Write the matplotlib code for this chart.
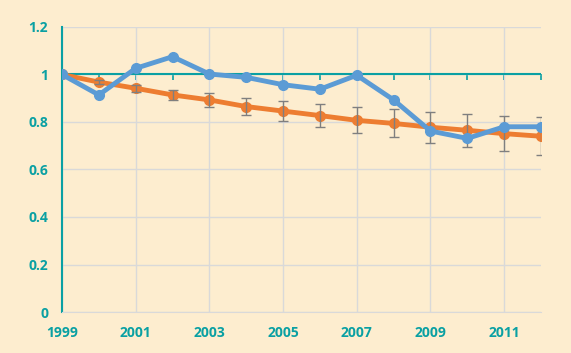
import matplotlib.pyplot as plt
import numpy as np

years = np.arange(1999, 2013)
blue = [1.0, 0.914, 1.026, 1.075, 1.002, 0.988, 0.957, 0.938, 0.997, 0.893, 0.762, 0.731, 0.780, 0.780]
orange = [1.0, 0.968, 0.942, 0.914, 0.893, 0.865, 0.846, 0.827, 0.807, 0.794, 0.778, 0.765, 0.751, 0.740]
orange_err = [0.0, 0.008, 0.015, 0.021, 0.029, 0.036, 0.043, 0.047, 0.055, 0.059, 0.065, 0.069, 0.075, 0.081]
xtick_years = [1999, 2001, 2003, 2005, 2007, 2009, 2011]
yticks = [0, 0.2, 0.4, 0.6, 0.8, 1, 1.2]

bg = '#fdedcf'
teal = '#0aa0a3'
grid = '#d9d9d9'

plt.rcParams['font.family'] = ['Open Sans', 'DejaVu Sans']

fig = plt.figure(figsize=(5.71, 3.53), dpi=100, facecolor=bg)
ax = fig.add_axes([62/571, 1 - 312/353, (541-62)/571, (312-27)/353])
ax.set_facecolor(bg)

ax.set_xlim(1999, 2012)
ax.set_ylim(0, 1.2)

# grid
ax.set_xticks(xtick_years)
ax.set_yticks(yticks)
ax.set_yticklabels(['%g' % v for v in yticks])
ax.grid(True, color=grid, lw=1)
ax.set_axisbelow(True)
ax.tick_params(axis='both', length=0, colors=teal, labelsize=10)
ax.tick_params(axis='x', pad=10)
ax.tick_params(axis='y', pad=10)
for lab in ax.get_xticklabels() + ax.get_yticklabels():
    lab.set_fontweight('bold')

ax.spines['top'].set_visible(False)
ax.spines['right'].set_visible(False)
ax.spines['bottom'].set_color(grid)
ax.spines['left'].set_color(teal)
ax.spines['left'].set_linewidth(1.5)

# teal axis line at y = 1 with yearly ticks
ax.axhline(1, color=teal, lw=1.5, zorder=2)
sec = ax.secondary_xaxis(1 / 1.2)
sec.xaxis.set_ticks_position('bottom')
sec.set_xticks(years)
sec.set_xticklabels([])
sec.tick_params(axis='x', direction='out', length=4, width=1.2, color=teal,
                labelbottom=False, labeltop=False)
for s in sec.spines.values():
    s.set_visible(False)

ax.plot(years, orange, color='#ed7d31', lw=3.5, marker='o', ms=7, zorder=3)
ax.errorbar(years, orange, yerr=orange_err, fmt='none', ecolor='#7f7f7f',
            elinewidth=1, capsize=3.5, capthick=1, zorder=4)
ax.plot(years, blue, color='#5b9bd5', lw=3.5, marker='o', ms=7, zorder=5)

fig.savefig('out.png', dpi=100, facecolor=bg)
